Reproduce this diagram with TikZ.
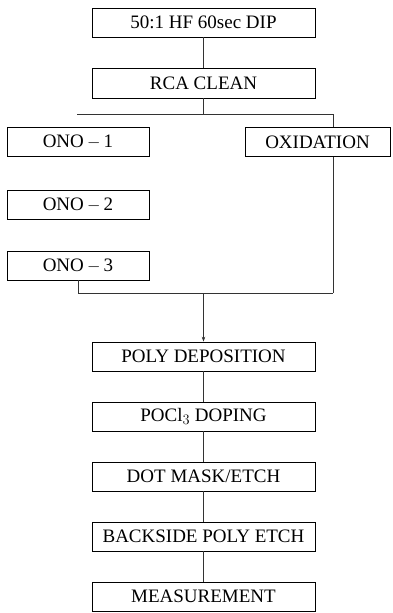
\documentclass[tikz,border=0pt]{standalone}
\usepackage{fontspec}
\setmainfont{Liberation Serif}
\usepackage{tikz}
\usetikzlibrary{arrows.meta,positioning}

\begin{document}
\begin{tikzpicture}[x=1pt, y=-1pt,
  box/.style={draw, line width=0.7pt, minimum height=29pt, inner sep=0pt,
              font=\fontsize{19}{22}\selectfont},
  wide/.style={box, minimum width=223pt},
  ono/.style={box, minimum width=142pt},
  link/.style={line width=0.6pt, black!80},
  >={Stealth[length=5pt,width=3.5pt]}]
\useasboundingbox (0,0) rectangle (392,613);
% top of the flow
\node[wide] (dip) at (203.5,22.5) {50:1 HF 60sec DIP};
\node[wide, minimum height=30pt] (rca) at (203.5,83) {RCA CLEAN};
% the two dielectric branches
\node[ono] (ono1) at (78,142) {ONO\,$-$\,1};
\node[ono] (ono2) at (78,204.5) {ONO\,$-$\,2};
\node[ono] (ono3) at (78,265.5) {ONO\,$-$\,3};
\node[box, minimum width=145pt] (oxid) at (317.5,142) {OXIDATION};
% common steps
\node[wide] (poly) at (203.5,356.5) {POLY DEPOSITION};
\node[wide] (pocl) at (203.5,416.5) {POCl$_3$ DOPING};
\node[wide] (dot) at (203.5,476.5) {DOT MASK/ETCH};
\node[wide] (back) at (203.5,536.5) {BACKSIDE POLY ETCH};
\node[wide] (meas) at (203.5,596.5) {MEASUREMENT};
\coordinate (brL) at (77,114);
\coordinate (brR) at (333,114);
\coordinate (jnL) at (78,293);
\coordinate (jnR) at (333,293);
\draw[link] (rca) -- (rca |- brL);
\draw[link] (brL) -- (brR) -- (brR |- oxid.north);
\draw[link] (ono3) -- (jnL);
\draw[link] (oxid.south -| jnR) -- (jnR);
\draw[link] (jnL) -- (jnR);
\draw[link, ->] (poly |- jnL) -- (poly);
\foreach \a/\b in {dip/rca, poly/pocl, pocl/dot, dot/back, back/meas}
  \draw[link] (\a) -- (\b);
\end{tikzpicture}
\end{document}
